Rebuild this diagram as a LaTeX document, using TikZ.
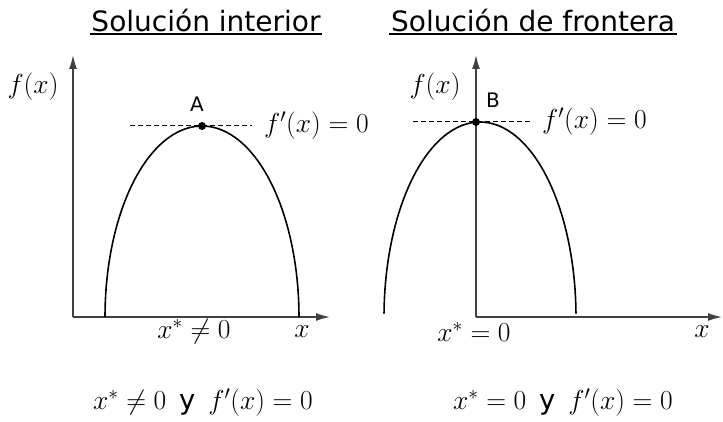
\documentclass[tikz,border=0pt]{standalone}
\usepackage{fix-cm}
\usepackage{amsmath}
\usepackage{fontspec}
\setsansfont{DejaVu Sans}
\usepackage{tikz}
\usetikzlibrary{arrows.meta}

\begin{document}
\begin{tikzpicture}[x=1pt, y=1pt,
    eje/.style={line width=1.5pt, black!75, -{Latex[length=14pt, width=8pt]}},
    curva/.style={line width=1.6pt},
    tangente/.style={line width=1pt, dash pattern=on 5pt off 3pt},
    titulo/.style={font=\sffamily\fontsize{28}{30}\selectfont, inner sep=1.5pt, anchor=base},
    mat/.style={font=\fontsize{27.5}{30}\selectfont, inner sep=0pt},
    letra/.style={font=\sffamily\fontsize{20}{22}\selectfont, inner sep=0pt}]
        \useasboundingbox (0,0) rectangle (723,421);

        % Titulos
        \node[titulo] (titI) at (206,389) {Solución interior};
        \node[titulo] (titF) at (533,389) {Solución de frontera};
        \draw[line width=1.4pt] (titI.south west) -- (titI.south east);
        \draw[line width=1.4pt] (titF.south west) -- (titF.south east);

        % Solucion interior: ejes
        \coordinate (O1) at (73,104);
        \coordinate (Y1) at (73,366);
        \coordinate (X1) at (330,104);
        \draw[eje] (O1) -- (Y1);
        \draw[eje] (O1) -- (X1);

        % curva y punto A
        \draw[curva, domain=180:0, samples=80] plot ({202+97*cos(\x)}, {104+191*sin(\x)});
        \coordinate (A) at (202,295);
        \coordinate (tA1) at (130,295);
        \coordinate (tA2) at (252,295);
        \draw[tangente] (tA1) -- (tA2);
        \fill (A) circle (4pt);
        \node[letra] (lA) at (197,317) {A};

        \node[mat] (fx1) at (33,334) {$f(x)$};
        \node[mat, anchor=west] (dfA) at (264,295) {$f'(x)=0$};
        \node[mat] (xs1) at (194,89) {$x^*\neq 0$};
        \node[mat] (xe1) at (302,89) {$x$};
        \node[mat] (res1) at (203,18) {$x^*\neq 0$\ \,\textsf{y}\ \,$f'(x)=0$};

        % Solucion de frontera: ejes
        \coordinate (O2) at (476,104);
        \coordinate (Y2) at (476,366);
        \coordinate (X2) at (722,104);
        \draw[eje] (O2) -- (Y2);
        \draw[eje] (O2) -- (X2);

        % curva y punto B
        \draw[curva, domain=179:1, samples=80] plot ({480+96*cos(\x)}, {104+195*sin(\x)});
        \coordinate (B) at (476,299);
        \coordinate (tB1) at (413,299);
        \coordinate (tB2) at (533,299);
        \draw[tangente] (tB1) -- (tB2);
        \fill (B) circle (4pt);
        \node[letra] (lB) at (493,321) {B};

        \node[mat] (fx2) at (435,334) {$f(x)$};
        \node[mat, anchor=west] (dfB) at (542,299) {$f'(x)=0$};
        \node[mat] (xs2) at (474,89) {$x^*=0$};
        \node[mat] (xe2) at (702,89) {$x$};
        \node[mat] (res2) at (563,18) {$x^*=0$\ \,\textsf{y}\ \,$f'(x)=0$};
\end{tikzpicture}
\end{document}
